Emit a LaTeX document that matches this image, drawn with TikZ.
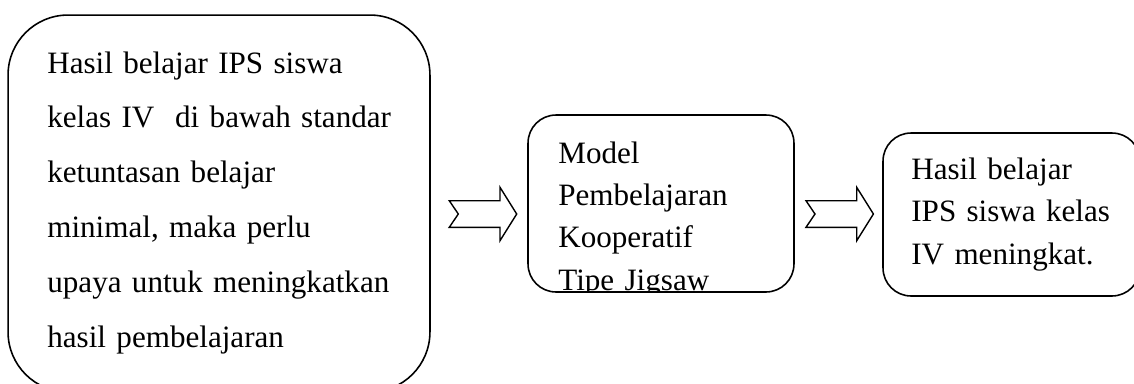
\documentclass[tikz,border=0pt]{standalone}
\usepackage{fontspec}
\setmainfont{Liberation Serif}
\usepackage{tikz}

\tikzset{
  box/.style={draw,rounded corners=#1,line width=0.9pt,inner sep=0pt},
  txt/.style={anchor=base west,inner sep=0pt,align=left,text width=8cm},
  pics/fatarrow/.style={code={
    \draw[line width=0.8pt,line join=miter] (0,-13.3) -- (50.7,-13.3) -- (50.7,-26.7) -- (67.4,0)
      -- (50.7,26.7) -- (50.7,13.3) -- (0,13.3) -- (9,0) -- cycle;
  }}
}

\begin{document}
\begin{tikzpicture}[x=0.02cm,y=-0.02cm]
\useasboundingbox (0,0) rectangle (1134,383);
\clip (0,0) rectangle (1134,383);
% boxes
\node[box=1.2cm,minimum width=8.44cm,minimum height=7.54cm] (masalah) at (219,203.5) {};
\node[box=0.56cm,minimum width=5.32cm,minimum height=3.54cm] (model) at (661,203.5) {};
\node[box=0.56cm,minimum width=5.14cm,minimum height=3.26cm] (hasil) at (1011.5,214.5) {};
% texts
\node[txt,font=\fontsize{17.7}{31.3}\selectfont] (t1) at (47,73)
  {Hasil belajar IPS siswa\\ kelas IV\ \ di bawah standar\\ ketuntasan belajar\\
   minimal, maka perlu\\ upaya untuk meningkatkan\\ hasil pembelajaran};
\begin{scope}
\clip (model.south west) rectangle (model.north east);
\node[txt,font=\fontsize{17.7}{24.1}\selectfont] (t2) at (558,163)
  {Model\\ Pembelajaran\\ Kooperatif\\ Tipe Jigsaw};
\end{scope}
\node[txt,font=\fontsize{17.7}{24.2}\selectfont] (t3) at (911,179)
  {Hasil belajar\\ IPS siswa kelas\\ IV meningkat.};
% arrows
\pic at (449.3,214) {fatarrow};
\pic at (806,214) {fatarrow};
\end{tikzpicture}
\end{document}
